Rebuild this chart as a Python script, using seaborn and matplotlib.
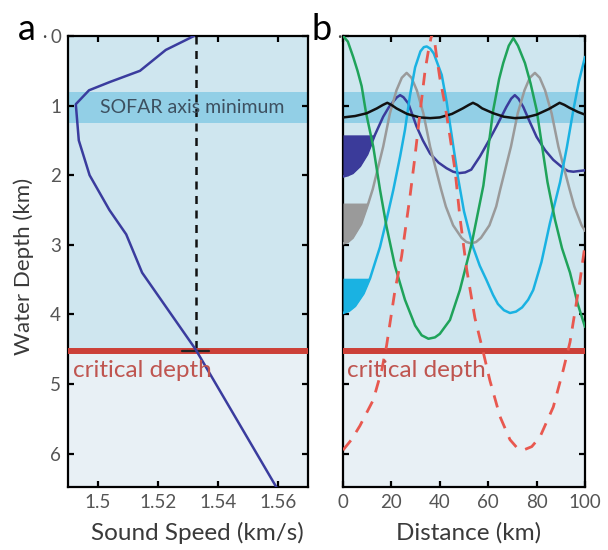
import numpy as np
import pandas as pd
import matplotlib
matplotlib.use("Agg")
import matplotlib.pyplot as plt
import seaborn as sns

# ---------------- data ----------------
# panel a: sound speed profile
profile_depth = [0.0, 0.2, 0.5, 0.66, 0.78, 0.98, 1.5, 2.0, 2.5, 2.85, 3.4, 4.5, 6.5]
profile_speed = [1.532, 1.5226, 1.514, 1.504, 1.497, 1.4926, 1.4936, 1.4972, 1.5038, 1.5094, 1.5147, 1.5325, 1.5597]
ref_speed = 1.5325
critical_depth = 4.53
sofar_top, sofar_bottom = 0.8, 1.25
speed_ticks = [1.5, 1.52, 1.54, 1.56]
depth_ticks = [0, 1, 2, 3, 4, 5, 6]
dist_ticks = [0, 20, 40, 60, 80, 100]

# panel b: ray paths (distance km, depth km)
black_d = [0, 5, 9.8, 14, 16.5, 18.3, 20, 22.1, 26.5, 31.8, 36, 40, 45, 49.5, 52, 53.7, 55.5, 57.5, 62.1, 66.5, 71, 75.5, 80, 85, 87.5, 89.5, 91.5, 93.5, 97, 100]
black_z = [1.17, 1.15, 1.11, 1.04, 0.99, 0.96, 0.99, 1.04, 1.12, 1.17, 1.18, 1.17, 1.12, 1.04, 0.99, 0.96, 0.99, 1.04, 1.11, 1.16, 1.18, 1.17, 1.13, 1.05, 1.0, 0.96, 0.99, 1.03, 1.09, 1.13]

navy_d = [0, 2, 4, 7, 10, 13.2, 16.6, 19, 20.8, 22.3, 23.6, 25, 27, 30.4, 33, 36, 39.5, 42.8, 45.5, 48, 50.5, 53, 56.6, 60, 63.4, 67.5, 69.5, 71, 72.5, 74.5, 77, 80, 83.5, 86.9, 91, 93, 95.2, 97.5, 100]
navy_z = [2.02, 2.0, 1.97, 1.87, 1.7, 1.42, 1.16, 1.02, 0.94, 0.88, 0.85, 0.88, 0.97, 1.3, 1.5, 1.69, 1.82, 1.9, 1.95, 1.97, 1.96, 1.92, 1.73, 1.52, 1.3, 1.02, 0.9, 0.85, 0.9, 1.02, 1.22, 1.45, 1.64, 1.78, 1.9, 1.94, 1.95, 1.94, 1.93]

gray_d = [0, 2, 4, 7.5, 10.5, 12.3, 16.6, 19.4, 22.1, 24.3, 26.3, 28.3, 30.5, 33.2, 36, 40.5, 42.5, 45.5, 49, 51, 53, 55, 57, 60.5, 63.3, 65, 69.4, 72.2, 75, 77.2, 79.3, 81.3, 83.5, 86.2, 89, 93.6, 95.6, 98.6, 100]
gray_z = [2.98, 2.96, 2.9, 2.7, 2.4, 2.2, 1.59, 1.11, 0.78, 0.6, 0.53, 0.6, 0.78, 1.11, 1.59, 2.2, 2.45, 2.72, 2.9, 2.96, 2.98, 2.96, 2.9, 2.72, 2.45, 2.2, 1.59, 1.11, 0.78, 0.6, 0.53, 0.6, 0.78, 1.11, 1.59, 2.2, 2.45, 2.72, 2.8]

cyan_d = [0, 2.5, 5, 8.5, 11.2, 15.3, 18, 20.8, 23.6, 25.6, 27.7, 29.8, 32, 33.4, 34.6, 36, 37.5, 40.8, 42.8, 45, 47.6, 50, 53.7, 56.5, 59.2, 62, 64, 66.5, 69, 71.5, 74, 76.5, 78.6, 82, 85.5, 89.7, 92.5, 95.2, 97.5, 100]
cyan_z = [3.98, 3.95, 3.88, 3.7, 3.48, 3.03, 2.64, 2.21, 1.73, 1.35, 0.85, 0.45, 0.22, 0.16, 0.15, 0.18, 0.25, 0.56, 0.94, 1.45, 2.05, 2.52, 3.03, 3.3, 3.5, 3.72, 3.85, 3.94, 3.98, 3.96, 3.9, 3.79, 3.65, 3.25, 2.69, 2.1, 1.6, 1.06, 0.65, 0.3]

green_d = [0, 2, 4.2, 6, 7.7, 9.5, 12.5, 15.3, 18, 21.5, 25.6, 29.8, 32.5, 35.3, 38, 40, 44.2, 48.3, 53.2, 58, 62.1, 64.5, 66.2, 68.5, 70.4, 72.3, 75.2, 77.5, 80, 84.5, 87.6, 90.5, 93.8, 97, 100]
green_z = [0.0, 0.08, 0.3, 0.5, 0.72, 1.1, 1.59, 2.21, 2.74, 3.31, 3.79, 4.16, 4.3, 4.35, 4.33, 4.28, 4.08, 3.65, 2.98, 2.15, 1.06, 0.62, 0.39, 0.14, 0.03, 0.14, 0.39, 0.68, 1.06, 2.1, 2.64, 3.05, 3.4, 3.85, 4.18]

red_d = [0, 3.5, 7, 12.5, 16, 18, 21.5, 24.2, 27.7, 29.5, 31.5, 33.9, 35.2, 36.4, 37.4, 38.5, 40, 42.1, 44, 46.3, 48.3, 51.1, 54.5, 58, 60.7, 64.9, 69, 72, 74.5, 78, 81.4, 86.9, 91, 93.8, 98, 100]
red_z = [5.95, 5.8, 5.6, 5.23, 4.8, 4.45, 3.65, 3.17, 2.3, 1.8, 1.2, 0.5, 0.23, 0.02, -0.05, 0.25, 0.6, 0.98, 1.4, 1.93, 2.6, 3.35, 4.05, 4.55, 4.95, 5.47, 5.8, 5.92, 5.95, 5.9, 5.76, 5.33, 4.8, 4.4, 3.5, 3.0]

# ray bundle wedges: top depth of each filled wedge
navy_wedge_top = 1.42
gray_wedge_top = 2.4
cyan_wedge_top = 3.48

# ---------------- style ----------------
sns.set_theme(style="ticks")
plt.rcParams["font.family"] = ["Lato", "DejaVu Sans"]

C_UP = "#cfe6ef"
C_LOW = "#e8f0f5"
C_BAND = "#92cfe6"
C_CRIT = "#cc4038"
C_CRIT_TXT = "#bf5550"
C_PROF = "#3a3c9e"
C_NAVY = "#3b3b9a"
C_GRAY = "#9a9a9a"
C_CYAN = "#1ab2e2"
C_GREEN = "#1fa35a"
C_RED = "#e8584f"
TICK_C = "#555555"
LAB_C = "#3a3a3a"

fig = plt.figure(figsize=(6.08, 5.5), dpi=100)
ax1 = fig.add_axes([68/608, 1-487/550, 240/608, 451/550])
ax2 = fig.add_axes([343/608, 1-487/550, 242/608, 451/550])

def style_axes(ax):
    ax.axhspan(-1, critical_depth, color=C_UP, zorder=0, lw=0)
    ax.axhspan(critical_depth, 7, color=C_LOW, zorder=0, lw=0)
    ax.axhspan(sofar_top, sofar_bottom, color=C_BAND, zorder=0.5, lw=0)
    ax.axhline(critical_depth, color=C_CRIT, lw=4.3, zorder=3)
    for s in ax.spines.values():
        s.set_visible(True)
        s.set_color("black")
        s.set_linewidth(1.6)
    ax.tick_params(direction="in", length=4, width=1.6, top=True, right=True,
                   colors="black", labelcolor=TICK_C, labelsize=13.5, pad=5)

# ---------- panel a ----------
style_axes(ax1)
prof = pd.DataFrame({"speed": profile_speed, "depth": profile_depth})
sns.lineplot(data=prof, x="speed", y="depth", sort=False, estimator=None,
             color=C_PROF, lw=1.8, ax=ax1, zorder=4)
ax1.plot([ref_speed, ref_speed], [0, critical_depth], color="#111111", lw=1.8,
         ls=(0, (3.2, 2.6)), zorder=2)
ax1.plot([1.528, 1.537], [critical_depth - 0.01] * 2, color="#222222", lw=1.6, zorder=3.5)
ax1.set_xlim(1.49, 1.57)
ax1.set_ylim(6.48, 0)
ax1.set_xticks(speed_ticks)
ax1.set_xticklabels([f"{v:g}" for v in speed_ticks])
ax1.set_yticks(depth_ticks)
ax1.set_xlabel("Sound Speed (km/s)", fontsize=17.5, color=LAB_C)
ax1.set_ylabel("Water Depth (km)", fontsize=16, color=LAB_C)
ax1.xaxis.label.set_va("center")
ax1.yaxis.label.set_va("center")
ax1.xaxis.set_label_coords(0.54, -0.102)
ax1.yaxis.set_label_coords(-0.185, 0.49)
ax1.text(1.5315, 1.03, "SOFAR axis minimum", ha="center", va="center",
         fontsize=14, color="#3d5060", zorder=5)
ax1.text(1.4915, 4.8, "critical depth", ha="left", va="center",
         fontsize=17.5, color=C_CRIT_TXT, zorder=5)

# ---------- panel b ----------
style_axes(ax2)
rays = [
    (navy_d, navy_z, C_NAVY),
    (gray_d, gray_z, C_GRAY),
    (cyan_d, cyan_z, C_CYAN),
    (green_d, green_z, C_GREEN),
    (black_d, black_z, "#111111"),
]
for d, z, c in rays:
    sns.lineplot(x=d, y=z, sort=False, estimator=None, color=c, lw=1.8, ax=ax2,
                 zorder=4, solid_joinstyle="round")
sns.lineplot(x=red_d, y=red_z, sort=False, estimator=None, color=C_RED, lw=2.0,
             ax=ax2, zorder=4.5, linestyle=(0, (4.5, 3.5)))

for d, z, top, c in [(navy_d, navy_z, navy_wedge_top, C_NAVY),
                     (gray_d, gray_z, gray_wedge_top, C_GRAY),
                     (cyan_d, cyan_z, cyan_wedge_top, C_CYAN)]:
    dd = [x for x, y in zip(d, z) if y >= top - 1e-9 and x < 20]
    zz = [y for x, y in zip(d, z) if y >= top - 1e-9 and x < 20]
    ax2.fill_between(dd, zz, top, color=c, lw=0, zorder=3.8)

ax2.set_xlim(0, 100)
ax2.set_ylim(6.48, 0)
ax2.set_xticks(dist_ticks)
ax2.set_yticks(depth_ticks)
ax2.set_yticklabels([])
ax2.set_xlabel("Distance (km)", fontsize=17.5, color=LAB_C)
ax2.xaxis.label.set_va("center")
ax2.xaxis.set_label_coords(0.519, -0.102)
ax2.set_ylabel("")
ax2.text(1.5, 4.8, "critical depth", ha="left", va="center",
         fontsize=17.5, color=C_CRIT_TXT, zorder=5)

fig.text(18/608, 1-30/550, "a", fontsize=26, color="black", va="center", ha="left")
fig.text(42/608, 1-37/550, "·", fontsize=12, color="#444444", va="center", ha="left")
fig.text(312/608, 1-30/550, "b", fontsize=26, color="black", va="center", ha="left")
fig.text(337/608, 1-37/550, "·", fontsize=12, color="#444444", va="center", ha="left")

fig.savefig("out.png", dpi=100)
